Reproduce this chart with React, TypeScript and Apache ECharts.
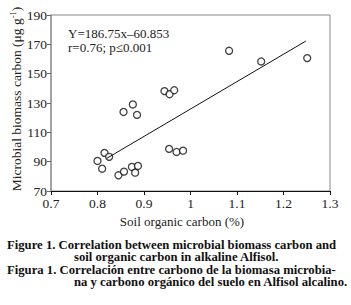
import React, { useEffect, useRef } from "react";
import * as echarts from "echarts";

const soc = [0.80, 0.815, 0.825, 0.81, 0.845, 0.857, 0.874, 0.881, 0.887, 0.856, 0.876, 0.885, 0.944, 0.955, 0.965, 0.954, 0.970, 0.984, 1.083, 1.152, 1.251];
const mbc = [90.5, 96, 93.3, 85.2, 80.7, 83.2, 86.4, 82.5, 87.1, 123.9, 129, 121.9, 138.1, 136, 138.7, 98.7, 96.6, 97.5, 165.6, 158.3, 160.6];
const slope = 186.75;
const intercept = -60.853;
const fitRange = [0.82, 1.248];
const xTicks = { min: 0.7, max: 1.3, interval: 0.1 };
const yTicks = { min: 70, max: 190, interval: 20 };
const yTitle = "Microbial biomass carbon (μg g{sup|-1})";
const xTitle = "Soil organic carbon (%)";
const captionEn = ["Figure 1. Correlation between microbial biomass carbon and", "soil organic carbon in alkaline Alfisol."];
const captionEs = ["Figura 1. Correlación entre carbono de la biomasa microbia-", "na y carbono orgánico del suelo en Alfisol alcalino."];

const SERIF = "'Liberation Serif', 'DejaVu Serif', serif";

export default function App() {
  const ref = useRef<HTMLDivElement>(null);
  useEffect(() => {
    if (!ref.current) return;
    const chart = echarts.init(ref.current, null, { renderer: "svg" });
    const points = soc.map((x, i) => [x, mbc[i]]);
    const fit = fitRange.map((x) => [x, slope * x + intercept]);
    const capStyle = { fontFamily: SERIF, fontWeight: "bold", fontSize: 12.7, lineHeight: 12.5, fill: "#111" };
    const caption = (lines: string[], top: number) => ({
      type: "text",
      left: 7,
      top,
      style: {
        text: `${lines[0]}\n{ind| }${lines[1]}`,
        fontFamily: SERIF,
        fontWeight: "bold",
        fontSize: 12.7,
        lineHeight: 12.5,
        fill: "#111",
        rich: { ind: { ...capStyle, width: 67 } },
      },
    });
    chart.setOption({
      animation: false,
      backgroundColor: "#fff",
      textStyle: { fontFamily: SERIF },
      grid: {
        left: 51,
        top: 15,
        right: 21,
        bottom: 114,
        containLabel: false,
        outerBoundsMode: "none",
        show: true,
        borderColor: "#888",
        borderWidth: 1,
        backgroundColor: "transparent",
      },
      xAxis: {
        type: "value",
        min: xTicks.min,
        max: xTicks.max,
        interval: xTicks.interval,
        axisLine: { show: true, lineStyle: { color: "#111", width: 1.2 } },
        axisTick: { show: true, length: 4, lineStyle: { color: "#111" } },
        axisLabel: { fontFamily: SERIF, fontSize: 13.5, color: "#222", margin: 5 },
        splitLine: { show: false },
      },
      yAxis: {
        type: "value",
        min: yTicks.min,
        max: yTicks.max,
        interval: yTicks.interval,
        axisLine: { show: true, lineStyle: { color: "#999", width: 1.5 } },
        axisTick: { show: true, length: 4, lineStyle: { color: "#666" } },
        axisLabel: { fontFamily: SERIF, fontSize: 13.5, color: "#222", margin: 4 },
        splitLine: { show: false },
      },
      series: [
        {
          type: "line",
          data: fit,
          symbol: "none",
          lineStyle: { color: "#111", width: 1 },
          silent: true,
        },
        {
          type: "scatter",
          data: points,
          symbol: "circle",
          symbolSize: 7,
          itemStyle: { color: "#fff", borderColor: "#111", borderWidth: 1.3 },
        },
      ],
      graphic: [
        {
          type: "text",
          x: 16,
          y: 99,
          rotation: Math.PI / 2,
          style: {
            text: yTitle,
            fontFamily: SERIF,
            fontSize: 13.5,
            fill: "#222",
            align: "center",
            verticalAlign: "middle",
            rich: { sup: { fontFamily: SERIF, fontSize: 8.5, fill: "#222", verticalAlign: "top", padding: [0, 0, 6, 0] } },
          },
        },
        {
          type: "text",
          x: 182,
          y: 221,
          style: { text: xTitle, fontFamily: SERIF, fontSize: 13, fill: "#222", align: "center", verticalAlign: "middle" },
        },
        {
          type: "text",
          left: 68,
          top: 27,
          style: { text: "Y=186.75x–60.853", font: `13px ${SERIF}`, fill: "#222" },
        },
        {
          type: "text",
          left: 68,
          top: 41,
          style: { text: "r=0.76; p≤0.001", font: `13px ${SERIF}`, fill: "#222" },
        },
        caption(captionEn, 238),
        caption(captionEs, 263),
      ],
    });
    return () => chart.dispose();
  }, []);
  return (
    <div
      ref={ref}
      style={{ position: "fixed", left: 0, top: 0, width: 351, height: 305 }}
    />
  );
}
